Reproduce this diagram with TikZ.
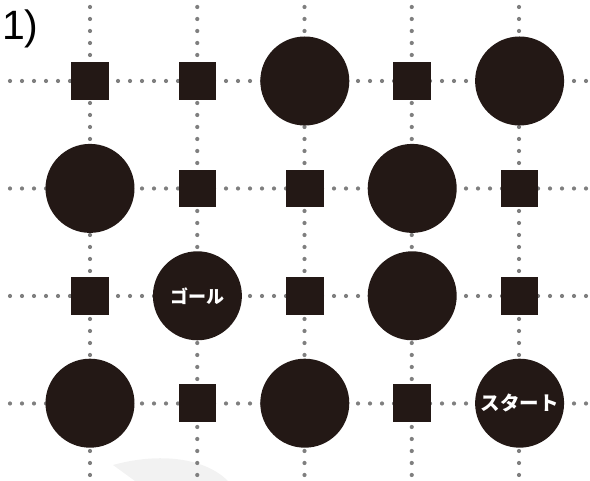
\documentclass[tikz,border=0pt]{standalone}
\usepackage{fontspec}
\setmainfont{Liberation Sans}
\newfontfamily\jpfont{Noto Sans CJK JP}
\definecolor{ink}{HTML}{231815}
\definecolor{dotgray}{HTML}{7F7F7F}
\begin{document}
\begin{tikzpicture}[x=1pt,y=1pt,
  sq/.style={fill=ink,minimum size=37.5pt,inner sep=0pt},
  big/.style={circle,fill=ink,minimum size=89pt,inner sep=0pt},
  lbl/.style={big,text=white,font=\jpfont\bfseries\fontsize{#1}{#1}\selectfont},
  dotline/.style={dotgray,line width=4.2pt,line cap=round,dash pattern=on 0pt off 12pt},
  node distance={107.4pt}]
  \useasboundingbox (0,0) rectangle (590,481);
  \fill[black!5] (113,16) -- (135,0) -- (228,0) .. controls (205,23) and (160,29) .. (113,16) -- cycle;
  % dotted grid
  \foreach \y in {400,292.5,185,77.5}
    \draw[dotline] (10,\y) -- (590,\y);
  \foreach \x in {90,197.25,304.5,411.75,519}
    \draw[dotline] (\x,474) -- (\x,0);
  \node[anchor=base west,inner sep=0pt,font=\fontsize{41}{41}\selectfont](title) at (2,441){1)};
  % row 1
  \node[sq](0) at (90,400){};
  \node[sq](1)[right of=0]{};
  \node[big](2)[right of=1]{};
  \node[sq](3)[right of=2]{};
  \node[big](4)[right of=3]{};
  % row 2
  \node[big](5)[below of=0]{};
  \node[sq](6)[right of=5]{};
  \node[sq](7)[right of=6]{};
  \node[big](8)[right of=7]{};
  \node[sq](9)[right of=8]{};
  % row 3
  \node[sq](10)[below of=5]{};
  \node[lbl=18](11)[right of=10]{ゴール};
  \node[sq](12)[right of=11]{};
  \node[big](13)[right of=12]{};
  \node[sq](14)[right of=13]{};
  % row 4
  \node[big](15)[below of=10]{};
  \node[sq](16)[right of=15]{};
  \node[big](17)[right of=16]{};
  \node[sq](18)[right of=17]{};
  \node[lbl=19.5](19)[right of=18]{スタート};
\end{tikzpicture}
\end{document}
